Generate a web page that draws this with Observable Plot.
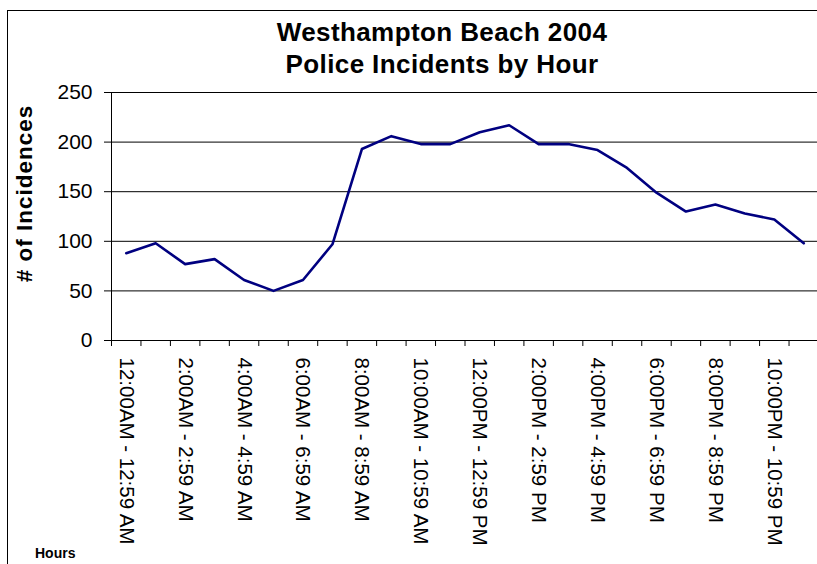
<!DOCTYPE html>
<html><head><meta charset="utf-8">
<script src="https://cdn.jsdelivr.net/npm/d3@7"></script>
<script src="https://cdn.jsdelivr.net/npm/@observablehq/plot@0.6"></script>
<style>
html,body{margin:0;padding:0;background:#fff;width:817px;height:564px;overflow:hidden;}
#frame{position:absolute;left:7px;top:10px;width:1000px;height:1000px;border-left:1.5px solid #000;border-top:1.5px solid #000;}
#title{position:absolute;left:0;top:16px;width:884px;text-align:center;font:bold 26px/32px "Liberation Sans",Arial,sans-serif;letter-spacing:0.4px;color:#000;}
#chart{position:absolute;left:0;top:81px;width:830px;}
#chart svg{max-width:none;}
#chart g[aria-label="y-axis label"]{translate:-1px -23px;}
#chart g[aria-label="y-axis label"] text{letter-spacing:1px;}
#caption{position:absolute;left:35px;top:545px;font:bold 14px "Liberation Sans",Arial,sans-serif;color:#000;}
</style></head>
<body>
<div id="frame"></div>
<div id="title">Westhampton Beach 2004<br>Police Incidents by Hour</div>
<div id="chart"></div>
<div id="caption">Hours</div>
<script>
const hours = [
  "12:00AM - 12:59 AM", "1:00AM - 1:59 AM", "2:00AM - 2:59 AM", "3:00AM - 3:59 AM",
  "4:00AM - 4:59 AM", "5:00AM - 5:59 AM", "6:00AM - 6:59 AM", "7:00AM - 7:59 AM",
  "8:00AM - 8:59 AM", "9:00AM - 9:59 AM", "10:00AM - 10:59 AM", "11:00AM - 11:59 AM",
  "12:00PM - 12:59 PM", "1:00PM - 1:59 PM", "2:00PM - 2:59 PM", "3:00PM - 3:59 PM",
  "4:00PM - 4:59 PM", "5:00PM - 5:59 PM", "6:00PM - 6:59 PM", "7:00PM - 7:59 PM",
  "8:00PM - 8:59 PM", "9:00PM - 9:59 PM", "10:00PM - 10:59 PM", "11:00PM - 11:59 PM"
];
const incidents = [88, 98, 77, 82, 61, 50, 61, 97, 193, 206, 198, 198,
                   210, 217, 198, 198, 192, 174, 149, 130, 137, 128, 122, 98];
const yTicks = [0, 50, 100, 150, 200, 250];
const yLabel = "# of Incidences";

const data = hours.map((h, i) => ({hour: h, pos: i + 0.5, value: incidents[i]}));
const boundaries = d3.range(hours.length + 1);
const labelPositions = data.filter((d, i) => i % 2 === 0).map(d => d.pos);

const FONT = '"Liberation Sans", Arial, sans-serif';
const W = 830;
const chart = Plot.plot({
  width: W, height: 483,
  marginLeft: 111, marginRight: W - 818, marginTop: 11, marginBottom: 224,
  style: {fontFamily: FONT, fontSize: "21px", color: "#000", background: "transparent"},
  x: {domain: [0, hours.length], label: null},
  y: {domain: [0, 250], label: null},
  marks: [
    Plot.ruleY(yTicks.filter(d => d > 0), {stroke: "#000", strokeWidth: 1}),
    Plot.axisX(boundaries, {tickSize: 6, tickFormat: () => "", stroke: "#000", label: null}),
    Plot.axisX(labelPositions, {tickSize: 0, tickPadding: 17, tickRotate: 90,
      tickFormat: p => hours[Math.floor(p)], fontSize: 20.5, label: null}),
    Plot.axisY(yTicks, {tickSize: 7, tickPadding: 12, fontSize: 21, stroke: "#000", label: null}),
    Plot.axisY([], {tickSize: 0, label: yLabel, labelAnchor: "center", labelOffset: 94,
      fontSize: 22.5, fontWeight: "bold", labelArrow: "none"}),
    Plot.ruleX([0], {stroke: "#000"}),
    Plot.ruleY([0], {stroke: "#000"}),
    Plot.line(data, {x: "pos", y: "value", stroke: "#000080", strokeWidth: 2.6})
  ]
});
document.getElementById("chart").appendChild(chart);
</script>
</body></html>
